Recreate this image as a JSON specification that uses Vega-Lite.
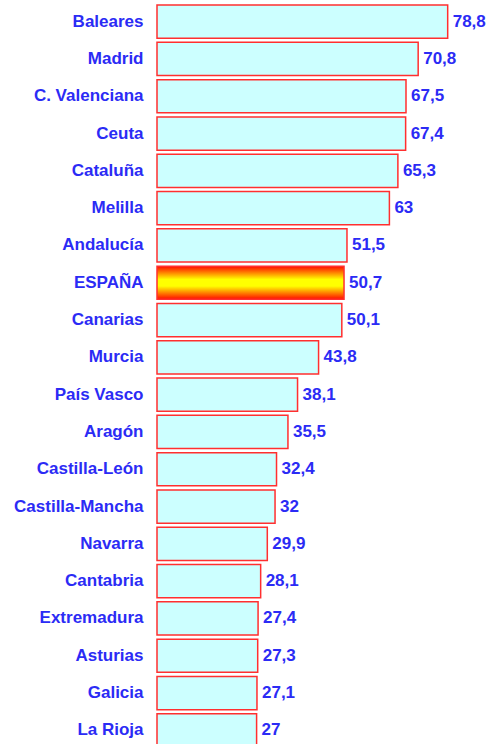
{
  "$schema": "https://vega.github.io/schema/vega-lite/v6.json",
  "autosize": "none",
  "padding": {"left": 157, "top": 3, "right": 0, "bottom": 0},
  "width": 332,
  "height": 746,
  "background": "white",
  "config": {
    "view": {"stroke": null},
    "locale": {"number": {"decimal": ",", "thousands": ".", "grouping": [3], "currency": ["", " €"]}}
  },
  "data": {
    "values": [
      {"region": "Baleares", "value": 78.8},
      {"region": "Madrid", "value": 70.8},
      {"region": "C. Valenciana", "value": 67.5},
      {"region": "Ceuta", "value": 67.4},
      {"region": "Cataluña", "value": 65.3},
      {"region": "Melilla", "value": 63},
      {"region": "Andalucía", "value": 51.5},
      {"region": "ESPAÑA", "value": 50.7},
      {"region": "Canarias", "value": 50.1},
      {"region": "Murcia", "value": 43.8},
      {"region": "País Vasco", "value": 38.1},
      {"region": "Aragón", "value": 35.5},
      {"region": "Castilla-León", "value": 32.4},
      {"region": "Castilla-Mancha", "value": 32},
      {"region": "Navarra", "value": 29.9},
      {"region": "Cantabria", "value": 28.1},
      {"region": "Extremadura", "value": 27.4},
      {"region": "Asturias", "value": 27.3},
      {"region": "Galicia", "value": 27.1},
      {"region": "La Rioja", "value": 27}
    ]
  },
  "encoding": {
    "y": {
      "field": "region",
      "type": "nominal",
      "sort": ["Baleares", "Madrid", "C. Valenciana", "Ceuta", "Cataluña", "Melilla", "Andalucía", "ESPAÑA", "Canarias", "Murcia", "País Vasco", "Aragón", "Castilla-León", "Castilla-Mancha", "Navarra", "Cantabria", "Extremadura", "Asturias", "Galicia", "La Rioja"],
      "scale": {"paddingInner": 0.11, "paddingOuter": 0.055},
      "axis": {
        "title": null,
        "domain": false,
        "ticks": false,
        "labelPadding": 14,
        "labelFont": "Liberation Sans",
        "labelFontWeight": "bold",
        "labelFontSize": 17,
        "labelColor": "#2b2bf5",
        "labelLimit": 300
      }
    },
    "x": {
      "field": "value",
      "type": "quantitative",
      "scale": {"domain": [0, 90], "nice": false},
      "axis": null
    }
  },
  "layer": [
    {
      "transform": [{"filter": "datum.region !== 'ESPAÑA'"}],
      "mark": {"type": "bar", "fill": "#ccffff", "stroke": "#ff2f2f", "strokeWidth": 1.5}
    },
    {
      "transform": [{"filter": "datum.region === 'ESPAÑA'"}],
      "mark": {
        "type": "bar",
        "stroke": "#ff2f2f",
        "strokeWidth": 1.5,
        "fill": {
          "gradient": "linear",
          "x1": 0, "y1": 0, "x2": 0, "y2": 1,
          "stops": [
            {"offset": 0, "color": "#ff0a00"},
            {"offset": 0.4, "color": "#ffff00"},
            {"offset": 0.6, "color": "#ffff00"},
            {"offset": 1, "color": "#ff0a00"}
          ]
        }
      }
    },
    {
      "mark": {
        "type": "text",
        "align": "left",
        "baseline": "middle",
        "dx": 5,
        "font": "Liberation Sans",
        "fontWeight": "bold",
        "fontSize": 17,
        "color": "#2b2bf5"
      },
      "encoding": {"text": {"field": "value", "type": "quantitative", "format": ".1~f"}}
    }
  ]
}
